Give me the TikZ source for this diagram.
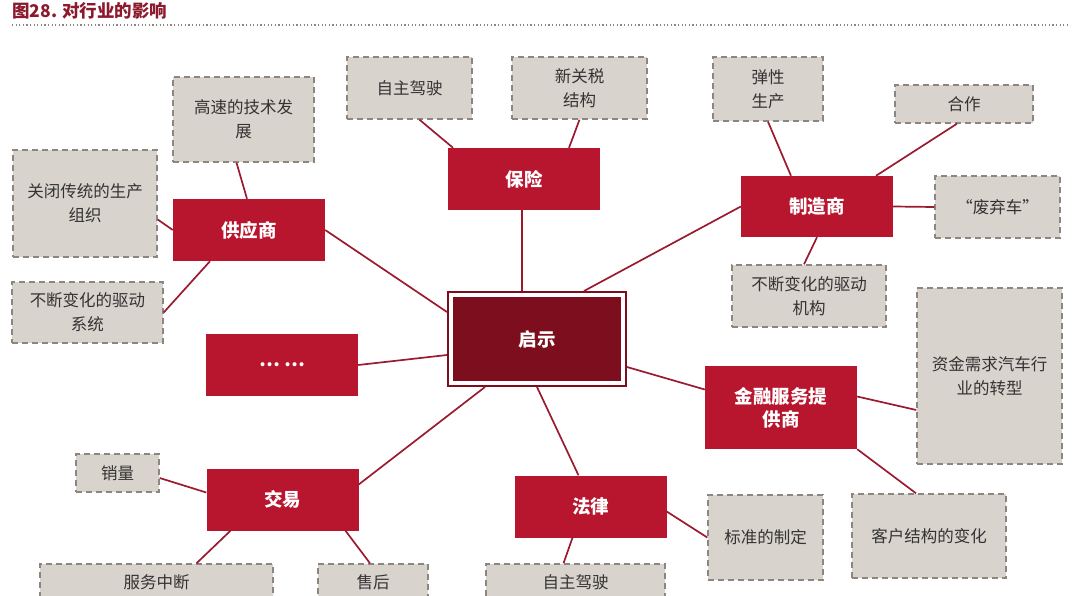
\documentclass[tikz,border=0pt]{standalone}
\usepackage{fontspec}
\setmainfont{Noto Sans CJK SC}
\usetikzlibrary{fit}

\definecolor{boxred}{HTML}{B8162E}
\definecolor{darkred}{HTML}{7D0E1E}
\definecolor{linered}{HTML}{9A1B2F}
\definecolor{boxgrey}{HTML}{D9D3CD}
\definecolor{dashgrey}{HTML}{8C8580}
\definecolor{textgrey}{HTML}{333333}
\definecolor{titlered}{HTML}{8C1A2E}

\begin{document}
\begin{tikzpicture}[x=1pt,y=-1pt,
    rotbox/.style={fill=boxred,text=white,font=\fontsize{18.5}{23}\selectfont\bfseries,
      minimum width=152pt,minimum height=62pt,inner sep=0pt,align=center},
    graubox/.style 2 args={fill=boxgrey,draw=dashgrey,line width=1.4pt,dash pattern=on 6pt off 4pt,
      text=textgrey,font=\fontsize{16.5}{24}\selectfont,inner sep=0pt,align=center,
      minimum width=#1,minimum height=#2},
    linie/.style={draw=linered,line width=1.7pt}]
    \useasboundingbox (0,0) rectangle (1080,595);
  % Titel
    \node[anchor=west,inner sep=0pt,text=titlered,font=\fontsize{17.5}{20}\selectfont\bfseries] (titel) at (12,11) {图28. 对行业的影响};
    \draw[dashgrey,line width=1.2pt,dash pattern=on 1.2pt off 2.4pt] (12,25) -- (1068,25);
  % Mitte
    \node[fill=darkred,text=white,font=\fontsize{18.5}{23}\selectfont\bfseries,
      minimum width=168pt,minimum height=84pt,inner sep=0pt] (qishi) at (537,339) {启示};
    \node[fit=(qishi),inner sep=5pt,draw=darkred,line width=1.6pt] (qsframe) {};
  % rote Kaesten
    \node[rotbox] (baoxian) at (524,179) {保险};
    \node[rotbox] (gongying) at (249,230) {供应商};
    \node[rotbox] (weiter) at (282,365) {… …};
    \node[rotbox,minimum height=61pt] (zhizao) at (817,206.5) {制造商};
    \node[rotbox,minimum height=83pt] (jinrong) at (781,407.5) {金融服务提\\供商};
    \node[rotbox] (jiaoyi) at (282.5,499.5) {交易};
    \node[rotbox] (falv) at (590.5,506.5) {法律};
  % graue Kaesten
    \node[graubox={125pt}{62pt}] (zizhuA) at (409.5,88) {自主驾驶};
    \node[graubox={135pt}{62pt}] (xinguan) at (579.5,88) {新关税\\结构};
    \node[graubox={141pt}{85pt}] (gaosu) at (243.5,119.5) {高速的技术发\\展};
    \node[graubox={144pt}{107pt}] (guanbi) at (85,203.5) {关闭传统的生产\\组织};
    \node[graubox={151pt}{61pt}] (xitong) at (87.5,312.5) {不断变化的驱动\\系统};
    \node[graubox={110pt}{64pt}] (tanxing) at (768,89) {弹性\\生产};
    \node[graubox={138pt}{38pt}] (hezuo) at (964,104) {合作};
    \node[graubox={125pt}{62pt}] (feiqi) at (997.5,207) {“废弃车”};
    \node[graubox={154pt}{62pt}] (jigou) at (809,296) {不断变化的驱动\\机构};
    \node[graubox={145pt}{176pt}] (zijin) at (989.5,376) {资金需求汽车行\\业的转型};
    \node[graubox={154pt}{84pt}] (kehu) at (929,536) {客户结构的变化};
    \node[graubox={115pt}{85pt}] (biaozhun) at (765.5,537.5) {标准的制定};
    \node[graubox={83pt}{38pt}] (xiaoliang) at (117.5,473) {销量};
    \node[graubox={233pt}{36pt}] (fuwu) at (156.5,582) {服务中断};
    \node[graubox={110pt}{36pt}] (shouhou) at (373,582) {售后};
    \node[graubox={179pt}{36pt}] (zizhuB) at (575.5,582) {自主驾驶};
  % Verbindungen
    \foreach \a/\b in {([xshift=-15pt]qsframe.north)/([xshift=-2pt]baoxian.south),
        ([yshift=27pt]qsframe.west)/(gongying.east),
        ([yshift=-16pt]qsframe.west)/(weiter.east),
        ([xshift=-52pt]qsframe.south)/([yshift=15pt]jiaoyi.east),
        (qsframe.south)/([xshift=-12pt]falv.north),
        ([yshift=-28pt]qsframe.east)/([yshift=18pt]jinrong.west),
        ([xshift=47pt]qsframe.north)/(zhizao.west),
        ([xshift=10pt]zizhuA.south)/([xshift=-71pt]baoxian.north),
        (xinguan.south)/([xshift=45pt]baoxian.north),
        ([xshift=-7pt]gaosu.south)/([xshift=-2pt]gongying.north),
        ([yshift=-16pt]guanbi.east)/(gongying.west),
        (xitong.east)/([xshift=-39pt]gongying.south),
        (tanxing.south)/([xshift=-26pt]zhizao.north),
        ([xshift=-7pt]hezuo.south)/([xshift=59pt]zhizao.north),
        (feiqi.west)/(zhizao.east),
        ([xshift=-5pt]jigou.north)/(zhizao.south),
        ([yshift=-34pt]zijin.west)/([yshift=11pt]jinrong.east),
        ([xshift=-13pt]kehu.north)/(jinrong.south east),
        (biaozhun.west)/([yshift=-5pt]falv.east),
        ([xshift=-12pt]zizhuB.north)/([xshift=-18pt]falv.south),
        ([yshift=-5pt]xiaoliang.east)/([yshift=7pt]jiaoyi.west),
        ([xshift=40pt]fuwu.north)/([xshift=-52pt]jiaoyi.south),
        ([xshift=-3pt]shouhou.north)/([xshift=63pt]jiaoyi.south)}
      \draw[linie] \a -- \b;
\end{tikzpicture}
\end{document}
